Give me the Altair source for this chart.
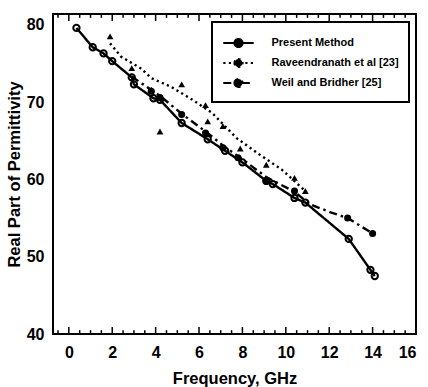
import altair as alt
import pandas as pd

# ---- data ----
names = ["Present Method", "Raveendranath et al [23]", "Weil and Bridher [25]"]

present_f = [0.35, 1.1, 1.6, 2.0, 2.9, 3.0, 3.9, 4.2, 5.2, 6.4, 7.2, 8.0, 9.1, 9.4, 10.4, 10.9, 12.9, 13.9, 14.1]
present_v = [79.6, 77.1, 76.3, 75.3, 73.2, 72.3, 70.5, 70.3, 67.3, 65.2, 63.7, 62.2, 59.8, 59.4, 57.6, 57.0, 52.3, 48.3, 47.5]

ravee_pt_f = [1.9, 2.9, 3.8, 4.2, 5.2, 6.3, 6.4, 7.1, 7.9, 9.1, 10.4, 10.9]
ravee_pt_v = [78.5, 74.4, 71.6, 66.2, 72.3, 69.6, 67.5, 66.9, 64.0, 61.9, 60.2, 58.5]
ravee_ln_f = [1.9, 2.4, 3.3, 3.8, 4.7, 5.7, 6.6, 7.75, 8.8, 9.8, 10.9]
ravee_ln_v = [77.6, 75.9, 74.4, 73.1, 72.0, 70.3, 68.6, 65.3, 63.2, 61.3, 58.5]

weil_pt_f = [3.8, 4.2, 5.2, 6.3, 7.1, 7.8, 9.1, 10.4, 12.85, 14.0]
weil_pt_v = [71.4, 70.6, 68.4, 66.0, 64.1, 62.8, 59.8, 58.5, 55.0, 53.0]
weil_ln_f = [2.9, 4.2, 5.2, 6.3, 7.1, 8.0, 9.1, 10.4, 11.1, 12.1, 12.85, 14.0]
weil_ln_v = [73.3, 70.8, 68.5, 66.2, 64.4, 62.6, 60.3, 58.4, 56.8, 55.7, 55.0, 53.0]

x_labels = [0, 2, 4, 6, 8, 10, 12, 14, 16]
y_labels = [40, 50, 60, 70, 80]
major_ticks = [0, 2, 4, 6, 8, 10, 12, 14, 16]
minor_ticks = [v * 0.5 for v in range(-1, 33) if v % 4 != 0]

FONT = "Liberation Sans"
W, H = 363, 320
Y_MIN, Y_MAX = 40, 81.4
MAJOR_LEN = 0.9   # tick length in value units (7.73 px per unit)
MINOR_LEN = 0.5

line_df = pd.concat([
    pd.DataFrame({"f": present_f, "v": present_v, "series": names[0]}),
    pd.DataFrame({"f": ravee_ln_f, "v": ravee_ln_v, "series": names[1]}),
    pd.DataFrame({"f": weil_ln_f, "v": weil_ln_v, "series": names[2]}),
])
present_df = pd.DataFrame({"f": present_f, "v": present_v})
ravee_df = pd.DataFrame({"f": ravee_pt_f, "v": ravee_pt_v})
weil_df = pd.DataFrame({"f": weil_pt_f, "v": weil_pt_v})

tick_rows = []
for t in major_ticks:
    tick_rows.append({"f": float(t), "v0": Y_MIN, "v1": Y_MIN + MAJOR_LEN})
    tick_rows.append({"f": float(t), "v0": Y_MAX - MAJOR_LEN, "v1": Y_MAX})
for t in minor_ticks:
    tick_rows.append({"f": float(t), "v0": Y_MIN, "v1": Y_MIN + MINOR_LEN})
    tick_rows.append({"f": float(t), "v0": Y_MAX - MINOR_LEN, "v1": Y_MAX})
tick_df = pd.DataFrame(tick_rows)

xs = alt.Scale(domain=[-0.73, 16], nice=False, zero=False, padding=0)
ys = alt.Scale(domain=[Y_MIN, Y_MAX], nice=False, zero=False, padding=0)

x_axis = alt.Axis(values=x_labels, ticks=False, domain=False, grid=False,
                  labelFont=FONT, labelFontSize=16, labelFontWeight="bold",
                  labelColor="black", labelPadding=10,
                  title="Frequency, GHz", titleFont=FONT, titleFontSize=16.5,
                  titleFontWeight="bold", titleColor="black", titlePadding=10)
y_axis = alt.Axis(values=y_labels, ticks=False, domain=False, grid=False,
                  labelFont=FONT, labelFontSize=16, labelFontWeight="bold",
                  labelColor="black", labelPadding=9,
                  title="Real Part of Permittivity", titleFont=FONT, titleFontSize=16.5,
                  titleFontWeight="bold", titleColor="black", titlePadding=4)

symbol_path = "M-1.6,0H1.6M-0.42,0a0.42,0.42 0 1,0 0.84,0a0.42,0.42 0 1,0 -0.84,0"

lines = alt.Chart(line_df).mark_line(color="black", strokeWidth=2.4).encode(
    x=alt.X("f:Q", scale=xs, axis=x_axis),
    y=alt.Y("v:Q", scale=ys, axis=y_axis),
    strokeDash=alt.StrokeDash(
        "series:N",
        scale=alt.Scale(domain=names, range=[[1, 0], [2.2, 3.3], [8, 4, 2.5, 4]]),
        legend=alt.Legend(
            title=None, orient="none", legendX=159, legendY=8,
            symbolType=symbol_path, symbolSize=361, symbolStrokeWidth=2.2,
            symbolStrokeColor="black", symbolFillColor="black",
            symbolOffset=5.5, labelOffset=22, rowPadding=0,
            labelFont=FONT, labelFontSize=11, labelFontWeight="bold",
            labelColor="black", padding=10, strokeColor="black",
            fillColor="white", cornerRadius=0,
        ),
    ),
    detail="series:N",
)

pts_present = alt.Chart(present_df).mark_point(
    shape="circle", filled=False, color="black", strokeWidth=2, size=40, opacity=1
).encode(x=alt.X("f:Q", scale=xs), y=alt.Y("v:Q", scale=ys))

pts_ravee = alt.Chart(ravee_df).mark_point(
    shape="triangle-up", filled=True, color="black", size=45, opacity=1
).encode(x=alt.X("f:Q", scale=xs), y=alt.Y("v:Q", scale=ys))

pts_weil = alt.Chart(weil_df).mark_point(
    shape="circle", filled=True, color="black", size=50, opacity=1
).encode(x=alt.X("f:Q", scale=xs), y=alt.Y("v:Q", scale=ys))

# inward frame ticks (fields for both ends, shared scales)
tick_rules = alt.Chart(tick_df).mark_rule(color="black", strokeWidth=1.5, opacity=1).encode(
    x=alt.X("f:Q", scale=xs),
    y=alt.Y("v0:Q", scale=ys),
    y2="v1:Q",
)

chart = alt.layer(
    lines, pts_present, pts_ravee, pts_weil, tick_rules,
).properties(
    width=W, height=H,
    autosize=alt.AutoSizeParams(type="none"),
    padding={"left": 53, "top": 14, "right": 12, "bottom": 53},
    background="white",
).configure_view(
    stroke="black", strokeWidth=2
).configure_legend(
    strokeWidth=2
)

chart.save("out.html", embed_options={"renderer": "svg", "actions": False})
